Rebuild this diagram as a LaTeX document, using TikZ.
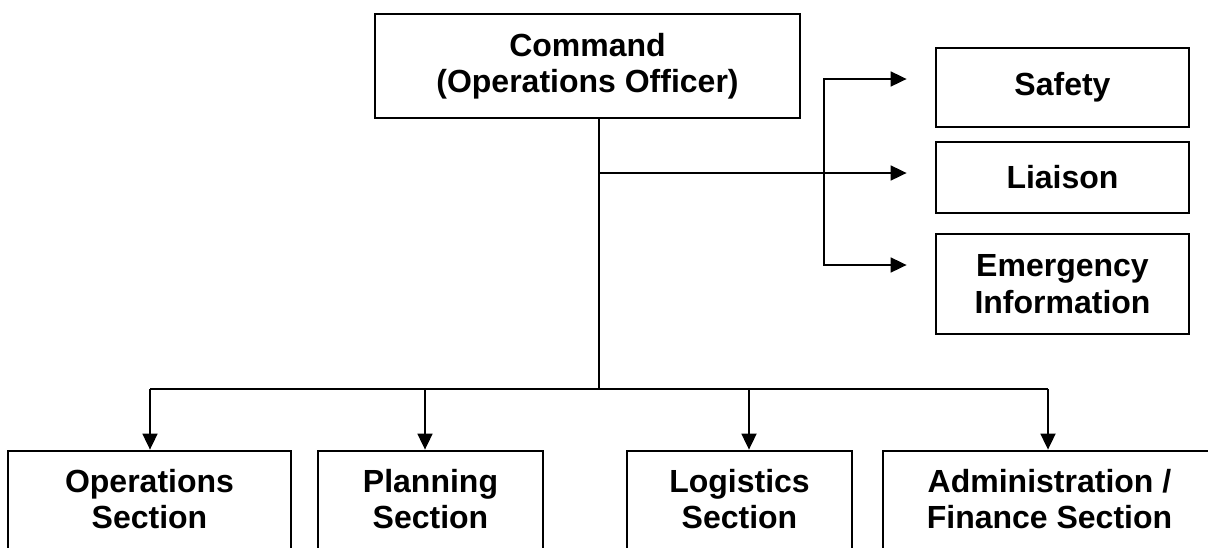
\documentclass[tikz,border=0pt]{standalone}
\usepackage{fontspec}
\setmainfont{Liberation Sans}
\usetikzlibrary{arrows.meta}
\newcommand{\lowpad}{\rule[-6pt]{0pt}{1pt}}
\tikzset{
  box/.style={draw, line width=2.8pt, rectangle, inner sep=0pt, align=center,
    font=\fontsize{32}{36.5}\selectfont\bfseries},
  conn/.style={line width=1.8pt},
  tip/.tip={Triangle[length=16pt,width=15pt]},
  arr/.style={conn, -tip}
}
\begin{document}
\begin{tikzpicture}[x=1pt,y=-1pt]
\useasboundingbox (0,0) rectangle (1208,547);
\clip (0,0) rectangle (1208,547);
% top
\node[box, minimum width=425pt, minimum height=104pt] (cmd) at (587.5,66) {Command\\(Operations Officer)};
\node[box, minimum width=253pt, minimum height=79pt] (saf) at (1062.5,87.5) {Safety};
\node[box, minimum width=253pt, minimum height=71pt] (lia) at (1062.5,177.5) {Liaison};
\node[box, minimum width=253pt, minimum height=100pt] (emg) at (1062.5,284) {Emergency\\Information};
% bottom (boxes run past the lower edge of the picture)
\node[box, minimum width=283pt, minimum height=102pt] (ops) at (149.5,502) {Operations\\Section\lowpad};
\node[box, minimum width=225pt, minimum height=102pt] (pln) at (430.5,502) {Planning\\Section\lowpad};
\node[box, minimum width=225pt, minimum height=102pt] (log) at (739.5,502) {Logistics\\Section\lowpad};
\node[box, minimum width=333pt, minimum height=102pt] (adm) at (1049.5,502) {Administration /\\Finance Section\lowpad};
% coordinates
\coordinate (trunk) at (599,389);
\coordinate (br) at (599,173);
\coordinate (v1) at (824,79);
\coordinate (v2) at (824,265);
\coordinate (b1) at (150,389);
\coordinate (b2) at (425,389);
\coordinate (b3) at (749,389);
\coordinate (b4) at (1048,389);
% connectors
\draw[conn] (cmd.south -| trunk) -- (trunk);
\draw[conn] (b1) -- (b4);
\draw[arr] (b1) -- (b1 |- ops.north);
\draw[arr] (b2) -- (b2 |- pln.north);
\draw[arr] (b3) -- (b3 |- log.north);
\draw[arr] (b4) -- (b4 |- adm.north);
\draw[arr, shorten >=28pt] (br) -- (br -| lia.west);
\draw[conn, tip-tip, shorten <=28pt, shorten >=28pt] (v1 -| saf.west) -- (v1) -- (v2) -- (v2 -| emg.west);
\end{tikzpicture}
\end{document}
